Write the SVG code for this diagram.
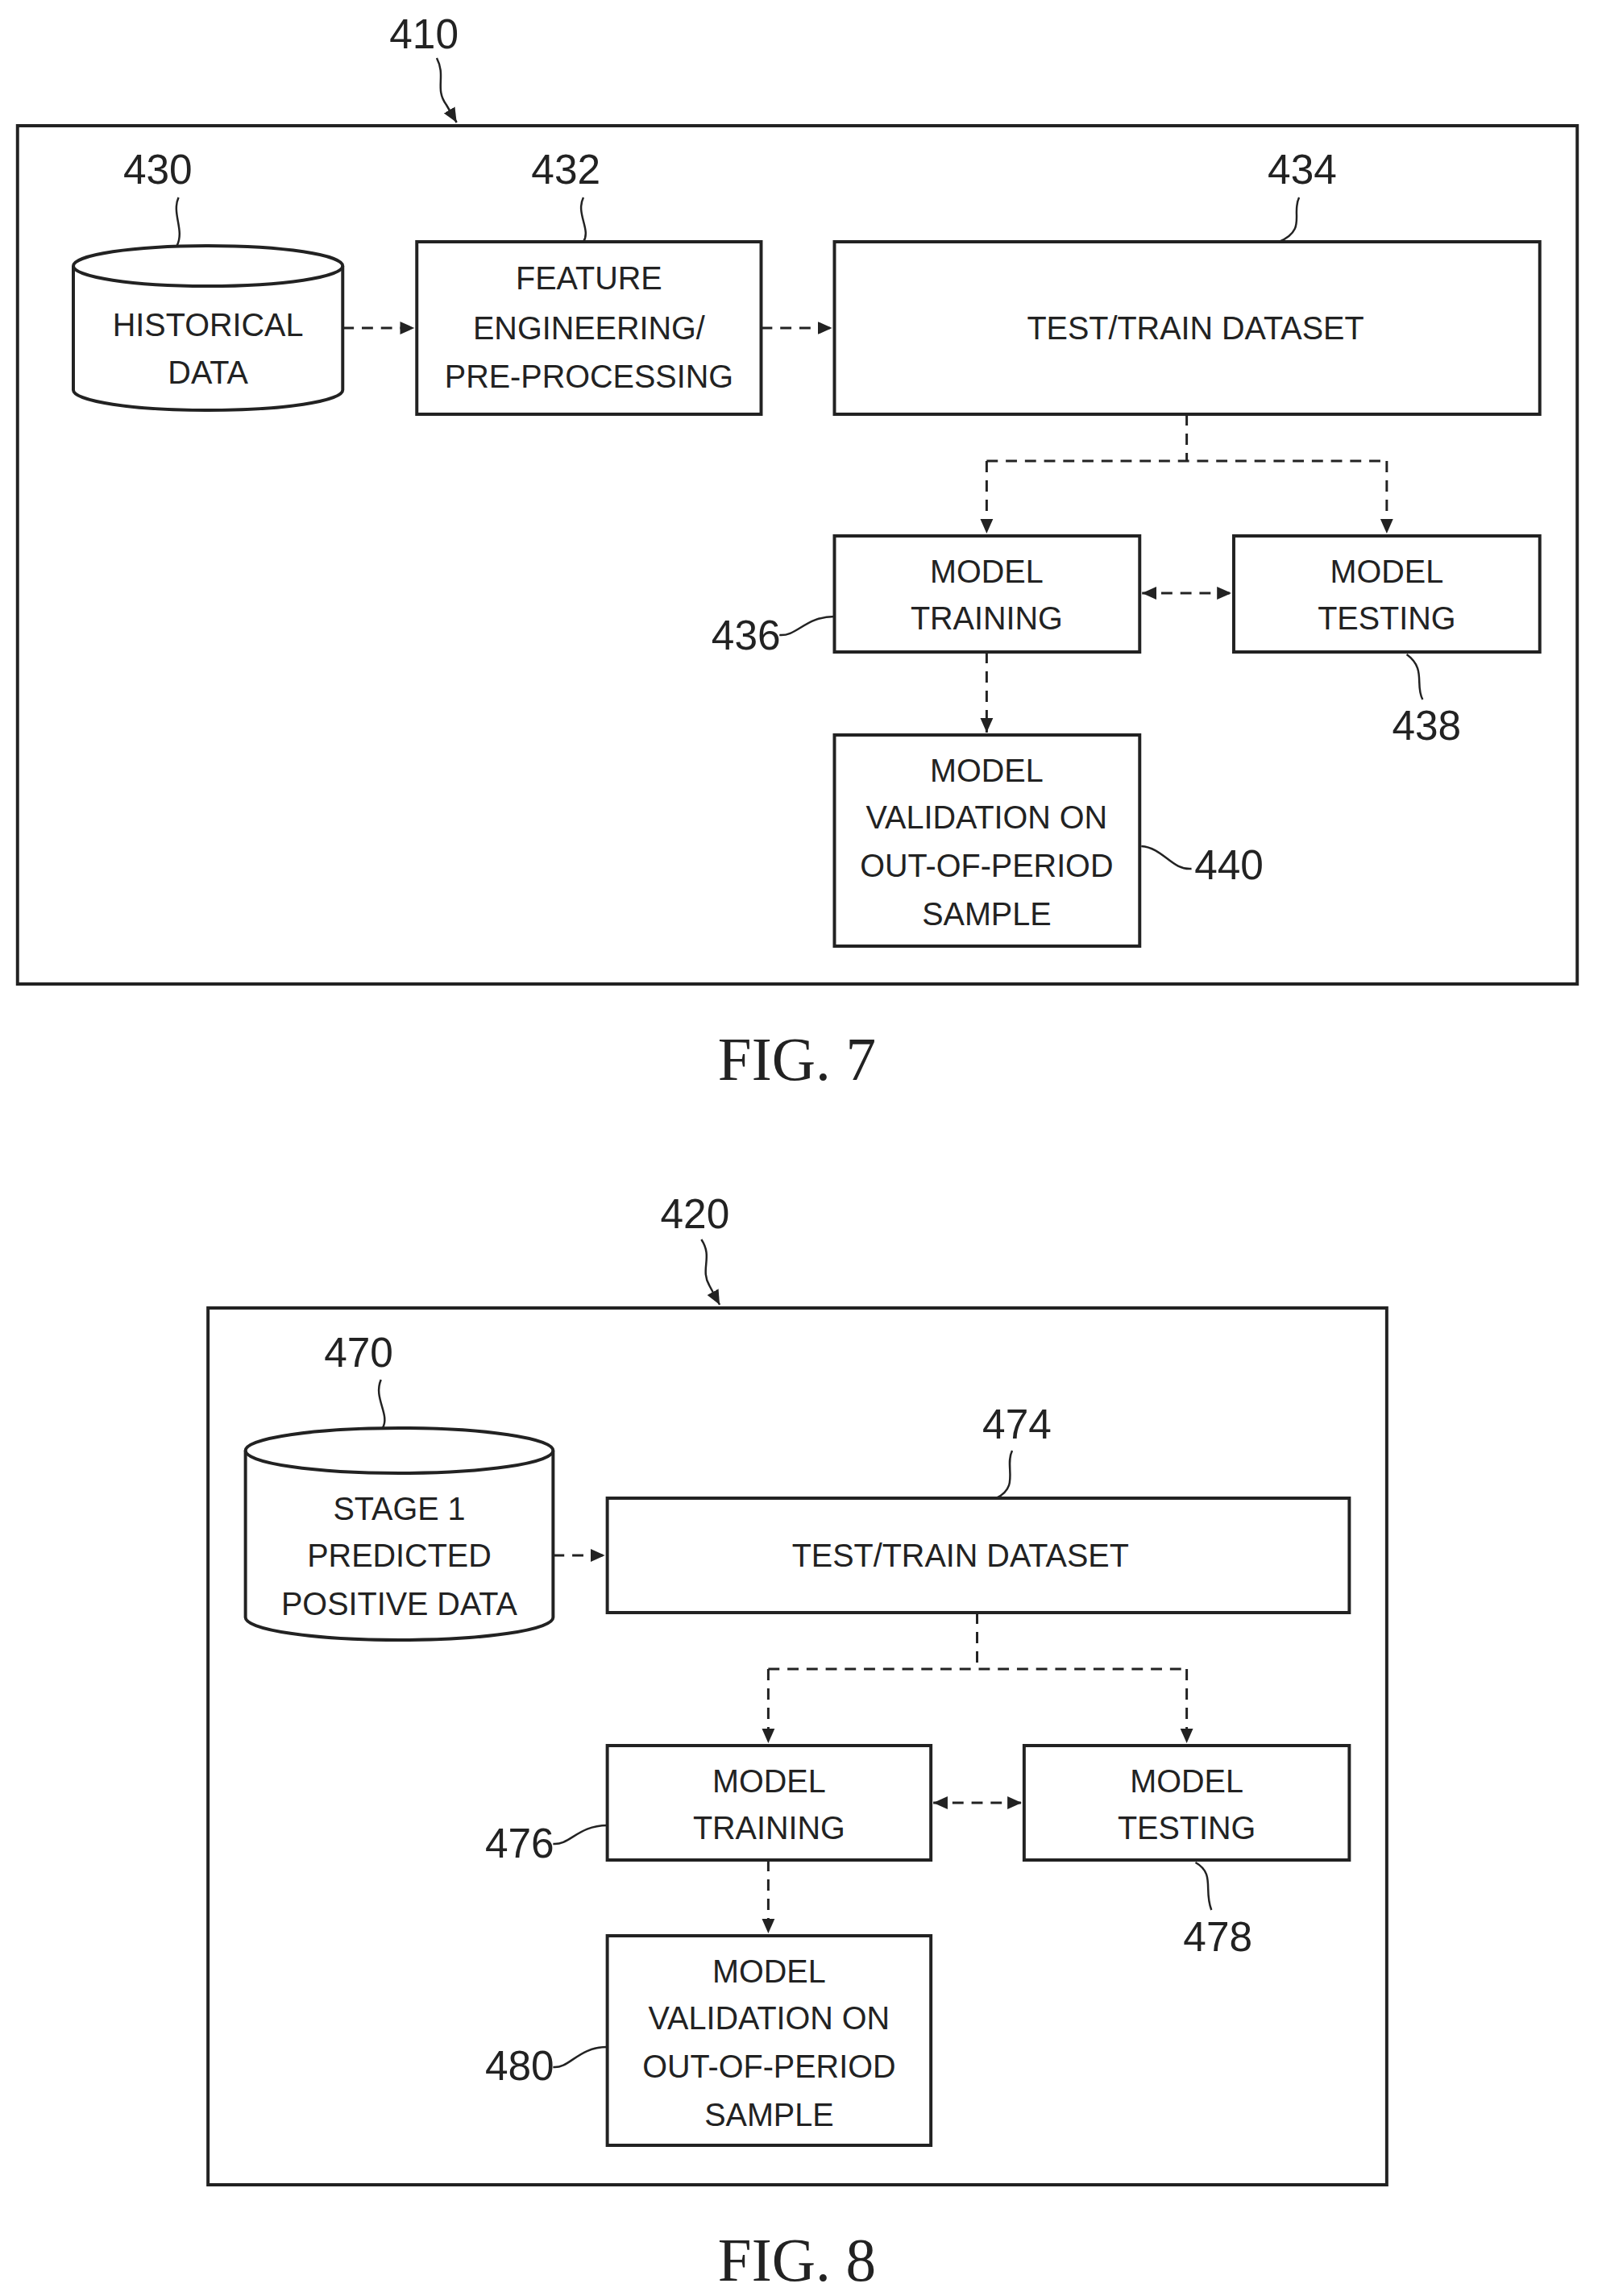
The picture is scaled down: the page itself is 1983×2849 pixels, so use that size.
<svg xmlns="http://www.w3.org/2000/svg" width="1983" height="2849" viewBox="0 0 1983 2849">
<style>
.b{fill:none;stroke:#222;stroke-width:4}
.t{font-family:"Liberation Sans",Arial,sans-serif;font-size:40px;fill:#222;text-anchor:middle}
.n{font-family:"Liberation Sans",Arial,sans-serif;font-size:52px;fill:#222;text-anchor:middle}
.f{font-family:"Liberation Serif","Times New Roman",serif;font-size:76px;fill:#222;text-anchor:middle}
.d{fill:none;stroke:#222;stroke-width:3;stroke-dasharray:14 10}
.l{fill:none;stroke:#222;stroke-width:2.5}
</style>
<defs>
<marker id="a2" markerWidth="20" markerHeight="20" refX="18" refY="10" orient="auto-start-reverse" markerUnits="userSpaceOnUse" viewBox="0 0 20 20"><path d="M0,2 L18,10 L0,18 z" fill="#222"/></marker>
</defs>
<g transform="scale(0.989,1)">
<g id="fig7">
<rect class="b" x="22" y="156" width="1957" height="1065"/>
<text class="n" x="532" y="60">410</text>
<path class="l" d="M548,72 C560,95 545,110 560,130 L573,152" marker-end="url(#a2)"/>
<text class="f" x="1000" y="1340">FIG. 7</text>
</g>
<g id="n430">
<path class="b" d="M92,330 L92,484 A169,25 0 0 0 430,484 L430,330"/>
<ellipse class="b" cx="261" cy="330" rx="169" ry="25"/>
<text class="t" x="261" y="417">HISTORICAL</text><text class="t" x="261" y="476">DATA</text>
<text class="n" x="198" y="228">430</text>
<path class="l" d="M224,245 C215,265 232,285 222,305"/>
</g>
<g id="n432">
<rect class="b" x="523" y="300" width="432" height="214"/>
<text class="t" x="739" y="359">FEATURE</text><text class="t" x="739" y="421">ENGINEERING/</text><text class="t" x="739" y="481">PRE-PROCESSING</text>
<text class="n" x="710" y="228">432</text>
<path class="l" d="M732,245 C722,265 742,285 732,300"/>
</g>
<g id="n434">
<rect class="b" x="1047" y="300" width="885" height="214"/>
<text class="t" x="1500" y="421">TEST/TRAIN DATASET</text>
<text class="n" x="1634" y="228">434</text>
<path class="l" d="M1630,245 C1620,265 1640,285 1605,300"/>
</g>
<g id="n436">
<rect class="b" x="1047" y="665" width="383" height="144"/>
<text class="t" x="1238" y="723">MODEL</text><text class="t" x="1238" y="781">TRAINING</text>
<text class="n" x="936" y="806">436</text>
<path class="l" d="M978,788 C1000,790 1010,765 1047,765"/>
</g>
<g id="n438">
<rect class="b" x="1548" y="665" width="384" height="144"/>
<text class="t" x="1740" y="723">MODEL</text><text class="t" x="1740" y="781">TESTING</text>
<text class="n" x="1790" y="918">438</text>
<path class="l" d="M1765,812 C1790,830 1775,850 1785,868"/>
</g>
<g id="n440">
<rect class="b" x="1047" y="912" width="383" height="262"/>
<text class="t" x="1238" y="970">MODEL</text><text class="t" x="1238" y="1028">VALIDATION ON</text><text class="t" x="1238" y="1088">OUT-OF-PERIOD</text><text class="t" x="1238" y="1148">SAMPLE</text>
<text class="n" x="1542" y="1091">440</text>
<path class="l" d="M1432,1050 C1460,1052 1470,1080 1495,1078"/>
</g>
<g id="fig8">
<rect class="b" x="261" y="1623" width="1479" height="1088"/>
<text class="n" x="872" y="1524">420</text>
<path class="l" d="M880,1538 C895,1560 878,1575 890,1595 L903,1619" marker-end="url(#a2)"/>
<text class="f" x="1000" y="2830">FIG. 8</text>
</g>
<g id="n470">
<path class="b" d="M308,1800 L308,2007 A193,28 0 0 0 694,2007 L694,1800"/>
<ellipse class="b" cx="501" cy="1800" rx="193" ry="28"/>
<text class="t" x="501" y="1886">STAGE 1</text><text class="t" x="501" y="1944">PREDICTED</text><text class="t" x="501" y="2004">POSITIVE DATA</text>
<text class="n" x="450" y="1696">470</text>
<path class="l" d="M478,1712 C468,1735 490,1755 480,1772"/>
</g>
<g id="n474">
<rect class="b" x="762" y="1859" width="931" height="142"/>
<text class="t" x="1205" y="1944">TEST/TRAIN DATASET</text>
<text class="n" x="1276" y="1785">474</text>
<path class="l" d="M1270,1800 C1260,1820 1280,1845 1250,1859"/>
</g>
<g id="n476">
<rect class="b" x="762" y="2166" width="406" height="142"/>
<text class="t" x="965" y="2224">MODEL</text><text class="t" x="965" y="2282">TRAINING</text>
<text class="n" x="652" y="2305">476</text>
<path class="l" d="M694,2288 C715,2290 725,2265 762,2265"/>
</g>
<g id="n478">
<rect class="b" x="1285" y="2166" width="408" height="142"/>
<text class="t" x="1489" y="2224">MODEL</text><text class="t" x="1489" y="2282">TESTING</text>
<text class="n" x="1528" y="2421">478</text>
<path class="l" d="M1500,2311 C1525,2325 1510,2345 1520,2370"/>
</g>
<g id="n480">
<rect class="b" x="762" y="2402" width="406" height="260"/>
<text class="t" x="965" y="2460">MODEL</text><text class="t" x="965" y="2518">VALIDATION ON</text><text class="t" x="965" y="2578">OUT-OF-PERIOD</text><text class="t" x="965" y="2638">SAMPLE</text>
<text class="n" x="652" y="2581">480</text>
<path class="l" d="M694,2565 C715,2567 725,2540 762,2540"/>
</g>
<g id="connectors">
<path class="d" d="M430,407 L520,407" marker-end="url(#a2)"/>
<path class="d" d="M955,407 L1044,407" marker-end="url(#a2)"/>
<path class="d" d="M1489,514 L1489,572"/>
<path class="d" d="M1238,572 L1740,572"/>
<path class="d" d="M1238,572 L1238,662" marker-end="url(#a2)"/>
<path class="d" d="M1740,572 L1740,662" marker-end="url(#a2)"/>
<path class="d" d="M1433,736 L1545,736" marker-start="url(#a2)" marker-end="url(#a2)"/>
<path class="d" d="M1238,809 L1238,909" marker-end="url(#a2)"/>
<path class="d" d="M694,1930 L759,1930" marker-end="url(#a2)"/>
<path class="d" d="M1226,2001 L1226,2071"/>
<path class="d" d="M964,2071 L1489,2071"/>
<path class="d" d="M964,2071 L964,2163" marker-end="url(#a2)"/>
<path class="d" d="M1489,2071 L1489,2163" marker-end="url(#a2)"/>
<path class="d" d="M1171,2237 L1282,2237" marker-start="url(#a2)" marker-end="url(#a2)"/>
<path class="d" d="M964,2308 L964,2399" marker-end="url(#a2)"/>
</g>
</g>
</svg>
